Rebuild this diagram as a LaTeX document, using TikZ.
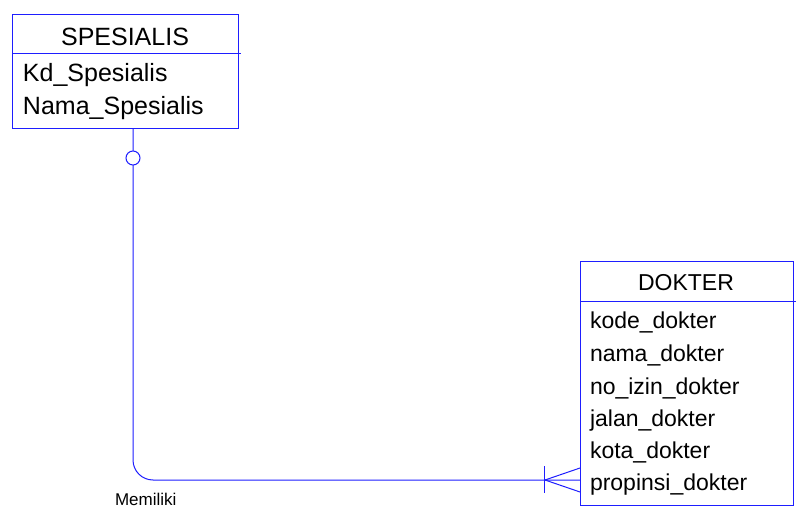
\documentclass[tikz,border=0pt]{standalone}
\usepackage{fontspec}
\setmainfont{Liberation Sans}
\begin{document}
\begin{tikzpicture}[x=1pt,y=-1pt,
  every node/.style={inner sep=0pt, outer sep=0pt},
  entbox/.style={draw=erblue, line width=1pt, rectangle},
  conn/.style={draw=erblue, line width=1pt},
  attr/.style={anchor=base west, font=\fontsize{23}{23}\selectfont},
  attrb/.style={anchor=base west, font=\fontsize{25}{25}\selectfont},
  title/.style={anchor=base, font=\fontsize{23}{23}\selectfont},
  titleb/.style={anchor=base, font=\fontsize{25}{25}\selectfont},
  lbl/.style={anchor=base west, font=\fontsize{17}{17}\selectfont}]
\definecolor{erblue}{RGB}{30,30,255}
\useasboundingbox (0,0) rectangle (800,518);
\fill[white] (0,0) rectangle (800,518);

% SPESIALIS entity
\node[entbox, minimum width=226pt, minimum height=114pt] (spes) at (125,72) {};
\coordinate (sh1) at (12,54);
\coordinate (sh2) at (241,54);
\draw[conn] (sh1) -- (sh2);
\node[titleb] (spest) at (125,46) {SPESIALIS};
\node[attrb] (spa1) at (23,82) {Kd\_Spesialis};
\node[attrb] (spa2) at (23,115) {Nama\_Spesialis};

% DOKTER entity
\node[entbox, minimum width=213pt, minimum height=243pt] (dok) at (686.5,383.5) {};
\coordinate (dh1) at (580,302);
\coordinate (dh2) at (796,302);
\draw[conn] (dh1) -- (dh2);
\node[title] (dokt) at (686,291) {DOKTER};
\node[attr] (da1) at (590,329) {kode\_dokter};
\node[attr] (da2) at (590,361) {nama\_dokter};
\node[attr] (da3) at (590,394) {no\_izin\_dokter};
\node[attr] (da4) at (590,426) {jalan\_dokter};
\node[attr] (da5) at (590,458) {kota\_dokter};
\node[attr] (da6) at (590,490) {propinsi\_dokter};

% relationship
\coordinate (r0) at (133,129);
\coordinate (rc) at (133,480);
\coordinate (r1) at (580,480);
\draw[conn, rounded corners=20pt] (r0) -- (rc) -- (r1);
\node[circle, draw=erblue, line width=1pt, fill=white, minimum size=14pt] (opt) at (133,158) {};

% crow's foot (many)
\coordinate (cf) at (545,480);
\coordinate (cbt) at (544,466);
\coordinate (cbb) at (544,493);
\coordinate (cu) at (580,468);
\coordinate (cl) at (580,492);
\draw[conn] (cbt) -- (cbb);
\draw[conn] (cf) -- (cu);
\draw[conn] (cf) -- (cl);

\node[lbl] (rel) at (115,505) {Memiliki};
\end{tikzpicture}
\end{document}
